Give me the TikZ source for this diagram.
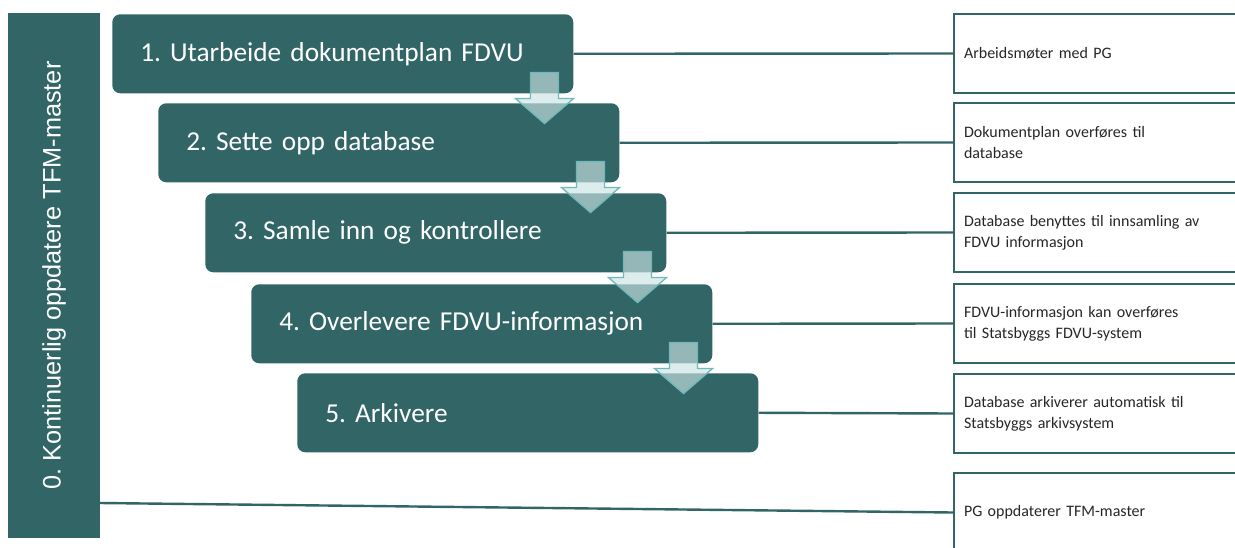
\documentclass[tikz,border=0pt]{standalone}
\usepackage{fontspec}
\setmainfont{Carlito}
\newfontfamily\barfont{Liberation Sans}
\usetikzlibrary{calc}
\frenchspacing
\definecolor{tfmteal}{RGB}{50,101,102}
\definecolor{arrowfill}{RGB}{203,227,229}
\definecolor{arrowline}{RGB}{110,185,188}
\tikzset{
  stepbox/.style={fill=tfmteal, rounded corners=6pt, anchor=north west, minimum width=345.75pt, minimum height=59.25pt, text width=303.75pt, inner xsep=21pt, inner ysep=0pt, align=left, text=white, font=\fontsize{20.5}{24}\selectfont},
  infobox/.style={draw=tfmteal, line width=1.5pt, anchor=north west, minimum width=225pt, minimum height=59.25pt, text width=210pt, inner xsep=7.5pt, inner ysep=0pt, align=left, text=black!85, font=\fontsize{12}{15.75}\selectfont},
  barbox/.style={fill=tfmteal, rotate=90, minimum width=393.75pt, minimum height=69pt, inner sep=0pt, text=white, font=\barfont\fontsize{19}{22}\selectfont},
  link/.style={draw=tfmteal, line width=1.8pt},
  flow/.style={fill=arrowfill, fill opacity=0.65, draw=arrowline, line width=1pt, line join=miter}
}
\newcommand\flowarrow[1]{%
  \coordinate (fa) at ($(#1.south east)+(-29,0)$);
  \draw[flow] ($(fa)+(-14,-21)$) -- ($(fa)+(14,-21)$) -- ($(fa)+(14,5)$) -- ($(fa)+(29,5)$) -- ($(fa)+(0,30)$) -- ($(fa)+(-29,5)$) -- ($(fa)+(-14,5)$) -- cycle;}

\begin{document}
\begin{tikzpicture}[x=0.75pt, y=-0.75pt]
		%%%%% START %%%%%
		\useasboundingbox (0,0) rectangle (1235,547);
		\clip (0,0) rectangle (1235,547);
		
		\node[barbox] (k0) at (54,275.5) {\raisebox{-4.5pt}{0. Kontinuerlig oppdatere TFM-master}};
		\coordinate (b0) at (100,503);
		
		\node[stepbox] (s1) at (112,14) {1. Utarbeide dokumentplan FDVU};
		\node[stepbox] (s2) at (158,103) {2. Sette opp database};
		\node[stepbox] (s3) at (205,193) {3. Samle inn og kontrollere};
		\node[stepbox] (s4) at (251,284) {4. Overlevere FDVU-informasjon};
		\node[stepbox] (s5) at (297,373) {5. Arkivere};
		
		\flowarrow{s1}
		\flowarrow{s2}
		\flowarrow{s3}
		\flowarrow{s4}
		
		\node[infobox] (i1) at (953,13) {Arbeidsmøter med PG};
		\node[infobox] (i2) at (953,102) {Dokumentplan overføres til\\database};
		\node[infobox] (i3) at (953,192) {Database benyttes til innsamling av\\FDVU informasjon};
		\node[infobox] (i4) at (953,283) {FDVU-informasjon kan overføres\\til Statsbyggs FDVU-system};
		\node[infobox] (i5) at (953,373) {Database arkiverer automatisk til\\Statsbyggs arkivsystem};
		\node[infobox] (i6) at (953,472) {PG oppdaterer TFM-master};
		
		\draw[link] (s1.east) -- (i1.west);
		\draw[link] (s2.east) -- (i2.west);
		\draw[link] (s3.east) -- (i3.west);
		\draw[link] (s4.east) -- (i4.west);
		\draw[link] (s5.east) -- (i5.west);
		\draw[link] (b0) -- (i6.west);
		
		%%%%% END %%%%%
\end{tikzpicture}
\end{document}
